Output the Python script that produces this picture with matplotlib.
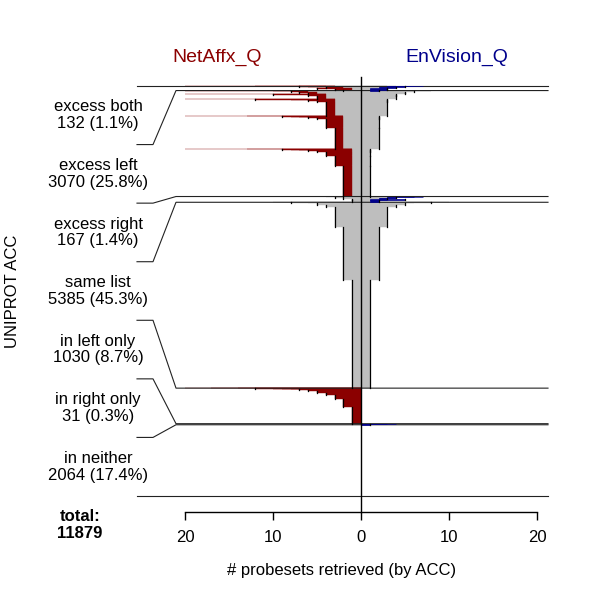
import matplotlib
matplotlib.use('Agg')
import matplotlib.pyplot as plt

plt.rcParams['font.family'] = ['Liberation Sans', 'DejaVu Sans']

categories = ['excess both', 'excess left', 'excess right', 'same list',
              'in left only', 'in right only', 'in neither']
counts = [132, 3070, 167, 5385, 1030, 31, 2064]
total = sum(counts)

# runs of ACCs inside each category: (shared, NetAffx, EnVision, n ACCs)
excess_both = [(4, 20, 7, 2), (3, 12, 6, 5), (3, 7, 5, 10), (2, 6, 4, 15),
               (2, 4, 4, 20), (1, 5, 3, 25), (1, 3, 3, 30), (1, 2, 2, 25)]
excess_left = [(8, 20, 8, 5), (8, 10, 8, 15), (6, 8, 6, 25), (5, 7, 5, 20),
               (5, 6, 5, 45),
               (4, 20, 4, 2), (4, 10, 4, 8), (4, 6, 4, 30), (4, 5, 4, 105),
               (3, 20, 3, 2), (3, 12, 3, 5), (3, 8, 3, 10), (3, 6, 3, 20),
               (3, 5, 3, 40), (3, 4, 3, 415),
               (2, 20, 2, 2), (2, 13, 2, 2), (2, 9, 2, 4), (2, 8, 2, 6),
               (2, 7, 2, 10), (2, 6, 2, 20), (2, 5, 2, 40), (2, 4, 2, 240),
               (2, 3, 2, 632),
               (1, 20, 1, 2), (1, 13, 1, 2), (1, 9, 1, 4), (1, 8, 1, 6),
               (1, 7, 1, 10), (1, 6, 1, 20), (1, 5, 1, 42), (1, 4, 1, 116),
               (1, 3, 1, 290), (1, 2, 1, 875)]
excess_right = [(4, 4, 7, 3), (3, 3, 6, 10), (3, 3, 4, 20), (2, 2, 4, 15),
                (2, 2, 3, 35), (1, 1, 5, 4), (1, 1, 3, 20), (1, 1, 2, 60)]
same_list = [(10, 10, 10, 3), (8, 8, 8, 10), (6, 6, 6, 20), (5, 5, 5, 35),
             (4, 4, 4, 72), (3, 3, 3, 580), (2, 2, 2, 1535), (1, 1, 1, 3130)]
left_only = [(0, 20, 0, 2), (0, 17, 0, 2), (0, 14, 0, 3), (0, 12, 0, 4),
             (0, 10, 0, 5), (0, 9, 0, 6), (0, 8, 0, 8), (0, 7, 0, 15),
             (0, 6, 0, 25), (0, 5, 0, 58), (0, 4, 0, 67), (0, 3, 0, 125),
             (0, 2, 0, 214), (0, 1, 0, 496)]
right_only = [(0, 0, 4, 3), (0, 0, 3, 5), (0, 0, 2, 8), (0, 0, 1, 15)]
in_neither = [(0, 0, 0, 2064)]

runs_by_cat = [excess_both, excess_left, excess_right, same_list,
               left_only, right_only, in_neither]

xticks = [-20, -10, 0, 10, 20]

GREY = '#bebebe'
RED = '#8b0000'
BLUE = '#00008b'

# pixel layout helpers (600x600 figure, axes fills it)
XSCALE = 8.8          # px per probeset
X0 = 361.0            # px of zero
YTOP, YBOT = 86.0, 496.0
K = total / (YBOT - YTOP)


def px_x(p):
    return (p - X0) / XSCALE


def px_y(p):
    return (p - YTOP) * K


fig = plt.figure(figsize=(6, 6), dpi=100)
ax = fig.add_axes([0, 0, 1, 1])
ax.set_xlim(px_x(0), px_x(600))
ax.set_ylim(px_y(600), px_y(0))

bounds = [0]
y = 0
vl_x, vl_y0, vl_y1 = [], [], []
for runs in runs_by_cat:
    for c, l, r, n in runs:
        if c:
            ax.barh(y, 2 * c, left=-c, height=n, align='edge', color=GREY,
                    edgecolor=GREY, linewidth=0.3, zorder=2)
        if l > c:
            ax.barh(y, l - c, left=-l, height=n, align='edge', color=RED,
                    edgecolor=RED, linewidth=0.3, zorder=2)
        if r > c:
            ax.barh(y, r - c, left=c, height=n, align='edge', color=BLUE,
                    edgecolor=BLUE, linewidth=0.5, zorder=2.6)
        if l:
            vl_x.append(-l); vl_y0.append(y); vl_y1.append(y + n)
        if r:
            vl_x.append(r); vl_y0.append(y); vl_y1.append(y + n)
        y += n
    bounds.append(y)

ax.vlines(vl_x, vl_y0, vl_y1, colors='black', linewidth=0.9,
          capstyle='projecting', zorder=3)

# connectors from label bands to data bands
band = total / len(categories)
for i, b in enumerate(bounds):
    by = i * band
    ax.plot([px_x(137), px_x(153), px_x(176), px_x(548)], [by, by, b, b],
            color='#222222', linewidth=0.8, zorder=2.5)

axis_y = px_y(512)
ax.plot([0, 0], [px_y(77), axis_y], color='black', linewidth=1.0, zorder=4)

for i, (name, n) in enumerate(zip(categories, counts)):
    pct = 100 * n / total
    ax.text(px_x(98), (i + 0.5) * band, f'{name}\n{n} ({pct:.1f}%)',
            ha='center', va='center', fontsize=12, linespacing=1.15)
ax.text(px_x(80), (len(categories) + 0.5) * band, f'total:\n{total}',
        ha='center', va='center', fontsize=12, fontweight='bold',
        linespacing=1.15)

ax.text(px_x(13), px_y(291), 'UNIPROT ACC', rotation=90, ha='center',
        va='center', fontsize=12)
ax.text(px_x(217), px_y(57), 'NetAffx_Q', color=RED, ha='center',
        va='center', fontsize=14)
ax.text(px_x(457), px_y(57), 'EnVision_Q', color=BLUE, ha='center',
        va='center', fontsize=14)
ax.text(px_x(342), px_y(570), '# probesets retrieved (by ACC)',
        ha='center', va='center', fontsize=12)

for side in ['top', 'left', 'right']:
    ax.spines[side].set_visible(False)
ax.spines['bottom'].set_position(('data', axis_y))
ax.spines['bottom'].set_bounds(-20, 20)
ax.spines['bottom'].set_linewidth(1.0)
ax.set_xticks(xticks)
ax.set_xticklabels([str(abs(t)) for t in xticks])
ax.tick_params(axis='x', direction='out', length=6, width=1.0,
               labelsize=12, pad=7)
ax.set_yticks([])

fig.savefig('out.png', dpi=100)
